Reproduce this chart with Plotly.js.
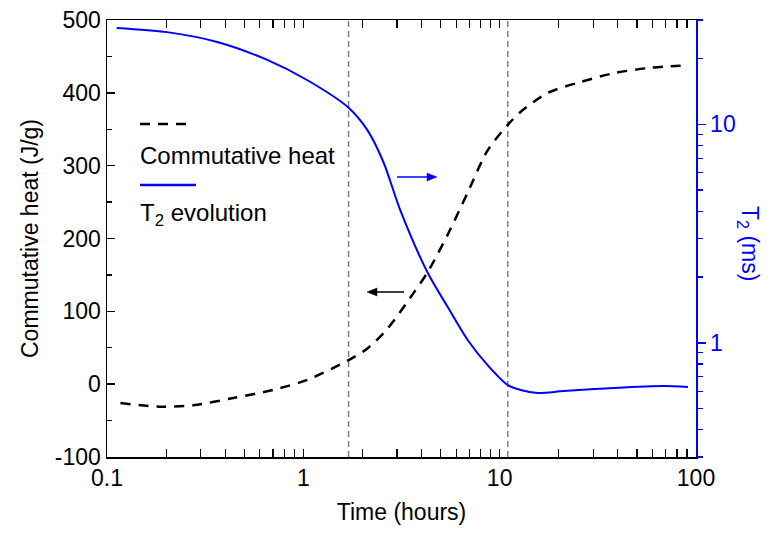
<!DOCTYPE html>
<html>
<head>
<meta charset="utf-8">
<script src="https://cdn.plot.ly/plotly-3.0.1.min.js"></script>
<style>html,body{margin:0;padding:0;background:#fff}#chart{width:772px;height:533px}</style>
</head>
<body>
<div id="chart"></div>
<script>
// Cumulative heat (left axis, J/g)
var timeHeat = [0.117, 0.186, 0.275, 0.44, 0.70, 1.05, 1.70, 2.12, 2.68, 3.64, 4.30, 5.43, 6.87, 8.68, 11.0, 12.8, 17.6, 25.9, 38.2, 56.9, 92];
var heat     = [-26, -31, -29, -19, -8, 6, 33, 49, 76, 125, 154, 205, 263, 321, 356, 374, 400, 415, 427, 434, 438];

// T2 evolution (right axis, ms)
var timeT2 = [0.112, 0.202, 0.364, 0.655, 1.05, 1.70, 2.12, 2.56, 3.13, 4.30, 5.43, 6.87, 8.68, 11.0, 12.8, 15.6, 21.2, 38.2, 68.7, 91];
var t2     = [27.6, 26.4, 23.8, 19.7, 15.9, 11.9, 9.4, 6.7, 4.0, 2.09, 1.46, 1.03, 0.79, 0.64, 0.608, 0.589, 0.601, 0.621, 0.634, 0.627];

// Vertical reference lines (hours)
var markerTimes = [1.7, 11.0];

var xTickVals = [0.1, 1, 10, 100];
var xTickText = ['0.1', '1', '10', '100'];
var yTickVals = [-100, 0, 100, 200, 300, 400, 500];
var yTickText = ['-100', '0', '100', '200', '300', '400', '500'];
var y2TickVals = [1, 10];
var y2TickText = ['1', '10'];

var FONT = 'Liberation Sans, Arial, sans-serif';
var BLUE = '#0000FF';
var FS = 23;

// pixel -> paper helpers for decorative elements (plot area 107..696 x 20..457)
function px(x) { return (x - 107) / 589; }
function py(y) { return (457 - y) / 437; }

function arrowShapes(x0, x1, y, color) {
  var dir = x1 > x0 ? 1 : -1;
  var base = x1 - dir * 10;
  return [
    {type: 'line', xref: 'paper', yref: 'paper', x0: px(x0), x1: px(base), y0: py(y), y1: py(y),
      line: {color: color, width: 1.5}},
    {type: 'path', xref: 'paper', yref: 'paper',
      path: 'M' + px(x1) + ',' + py(y) + ' L' + px(base) + ',' + py(y - 4) + ' L' + px(base) + ',' + py(y + 4) + ' Z',
      fillcolor: color, line: {color: color, width: 0.5}}
  ];
}

var traces = [];
markerTimes.forEach(function (t) {
  traces.push({x: [t, t], y: [-100, 500], mode: 'lines', showlegend: false, hoverinfo: 'skip',
    line: {color: '#808080', width: 1.5, dash: '6px,4px'}});
});
traces.push({x: timeHeat, y: heat, mode: 'lines', name: 'Commutative heat', showlegend: false,
  line: {color: '#000000', width: 2.5, dash: '10px,8px', shape: 'spline', smoothing: 0.8}});
traces.push({x: timeT2, y: t2, yaxis: 'y2', mode: 'lines', name: 'T2 evolution', showlegend: false,
  line: {color: BLUE, width: 2, shape: 'spline', smoothing: 0.8}});

var shapes = [
  {type: 'line', xref: 'paper', yref: 'paper', x0: px(140), x1: px(190), y0: py(124), y1: py(124),
    line: {color: '#000', width: 2.5, dash: '10px,8px'}},
  {type: 'line', xref: 'paper', yref: 'paper', x0: px(140), x1: px(196), y0: py(185), y1: py(185),
    line: {color: BLUE, width: 2.5}}
].concat(arrowShapes(404, 367, 292, '#000')).concat(arrowShapes(397, 437, 177, BLUE));

var layout = {
  width: 772, height: 533,
  margin: {l: 107, r: 76, t: 20, b: 76},
  paper_bgcolor: '#fff', plot_bgcolor: '#fff',
  font: {family: FONT, size: FS, color: '#000'},
  showlegend: false,
  xaxis: {
    type: 'log', range: [-1, 2],
    tickvals: xTickVals, ticktext: xTickText,
    ticks: 'inside', ticklen: 8, tickwidth: 1.5, tickcolor: '#000',
    minor: {dtick: 'D1', ticks: 'inside', ticklen: 5, tickwidth: 1.2, tickcolor: '#000', showgrid: false},
    showline: true, linecolor: '#000', linewidth: 1.5, mirror: 'allticks',
    showgrid: false, zeroline: false,
    tickfont: {size: FS, family: FONT},
    title: {text: 'Time (hours)', font: {size: FS, family: FONT}, standoff: 14}
  },
  yaxis: {
    range: [-100, 500],
    tickvals: yTickVals, ticktext: yTickText,
    ticks: 'inside', ticklen: 8, tickwidth: 1.5, tickcolor: '#000',
    minor: {dtick: 50, ticks: 'inside', ticklen: 5, tickwidth: 1.2, tickcolor: '#000', showgrid: false},
    showline: true, linecolor: '#000', linewidth: 1.5,
    showgrid: false, zeroline: false,
    tickfont: {size: FS, family: FONT},
    title: {text: 'Commutative heat (J/g)', font: {size: FS, family: FONT}, standoff: 10}
  },
  yaxis2: {
    type: 'log', range: [Math.log10(0.3), Math.log10(30)],
    overlaying: 'y', side: 'right',
    tickvals: y2TickVals, ticktext: y2TickText,
    ticks: 'outside', ticklen: 8, tickwidth: 1.5, tickcolor: BLUE,
    minor: {dtick: 'D1', ticks: 'outside', ticklen: 5, tickwidth: 1.2, tickcolor: BLUE, showgrid: false},
    showline: true, linecolor: BLUE, linewidth: 1.5,
    showgrid: false, zeroline: false,
    tickfont: {size: FS, family: FONT, color: BLUE}
  },
  shapes: shapes,
  annotations: [
    {xref: 'paper', yref: 'paper', x: px(138), y: py(155), xanchor: 'left', yanchor: 'middle',
      text: 'Commutative heat', showarrow: false, font: {size: 24, family: FONT, color: '#000'}},
    {xref: 'paper', yref: 'paper', x: px(138), y: py(214), xanchor: 'left', yanchor: 'middle',
      text: 'T<sub>2</sub> evolution', showarrow: false, font: {size: 24, family: FONT, color: '#000'}},
    {xref: 'paper', yref: 'paper', x: px(749), y: py(243), xanchor: 'center', yanchor: 'middle',
      text: 'T<sub>2</sub> (ms)', textangle: 90, showarrow: false, font: {size: FS, family: FONT, color: BLUE}}
  ]
};

Plotly.newPlot('chart', traces, layout, {displayModeBar: false, staticPlot: true});
</script>
</body>
</html>
